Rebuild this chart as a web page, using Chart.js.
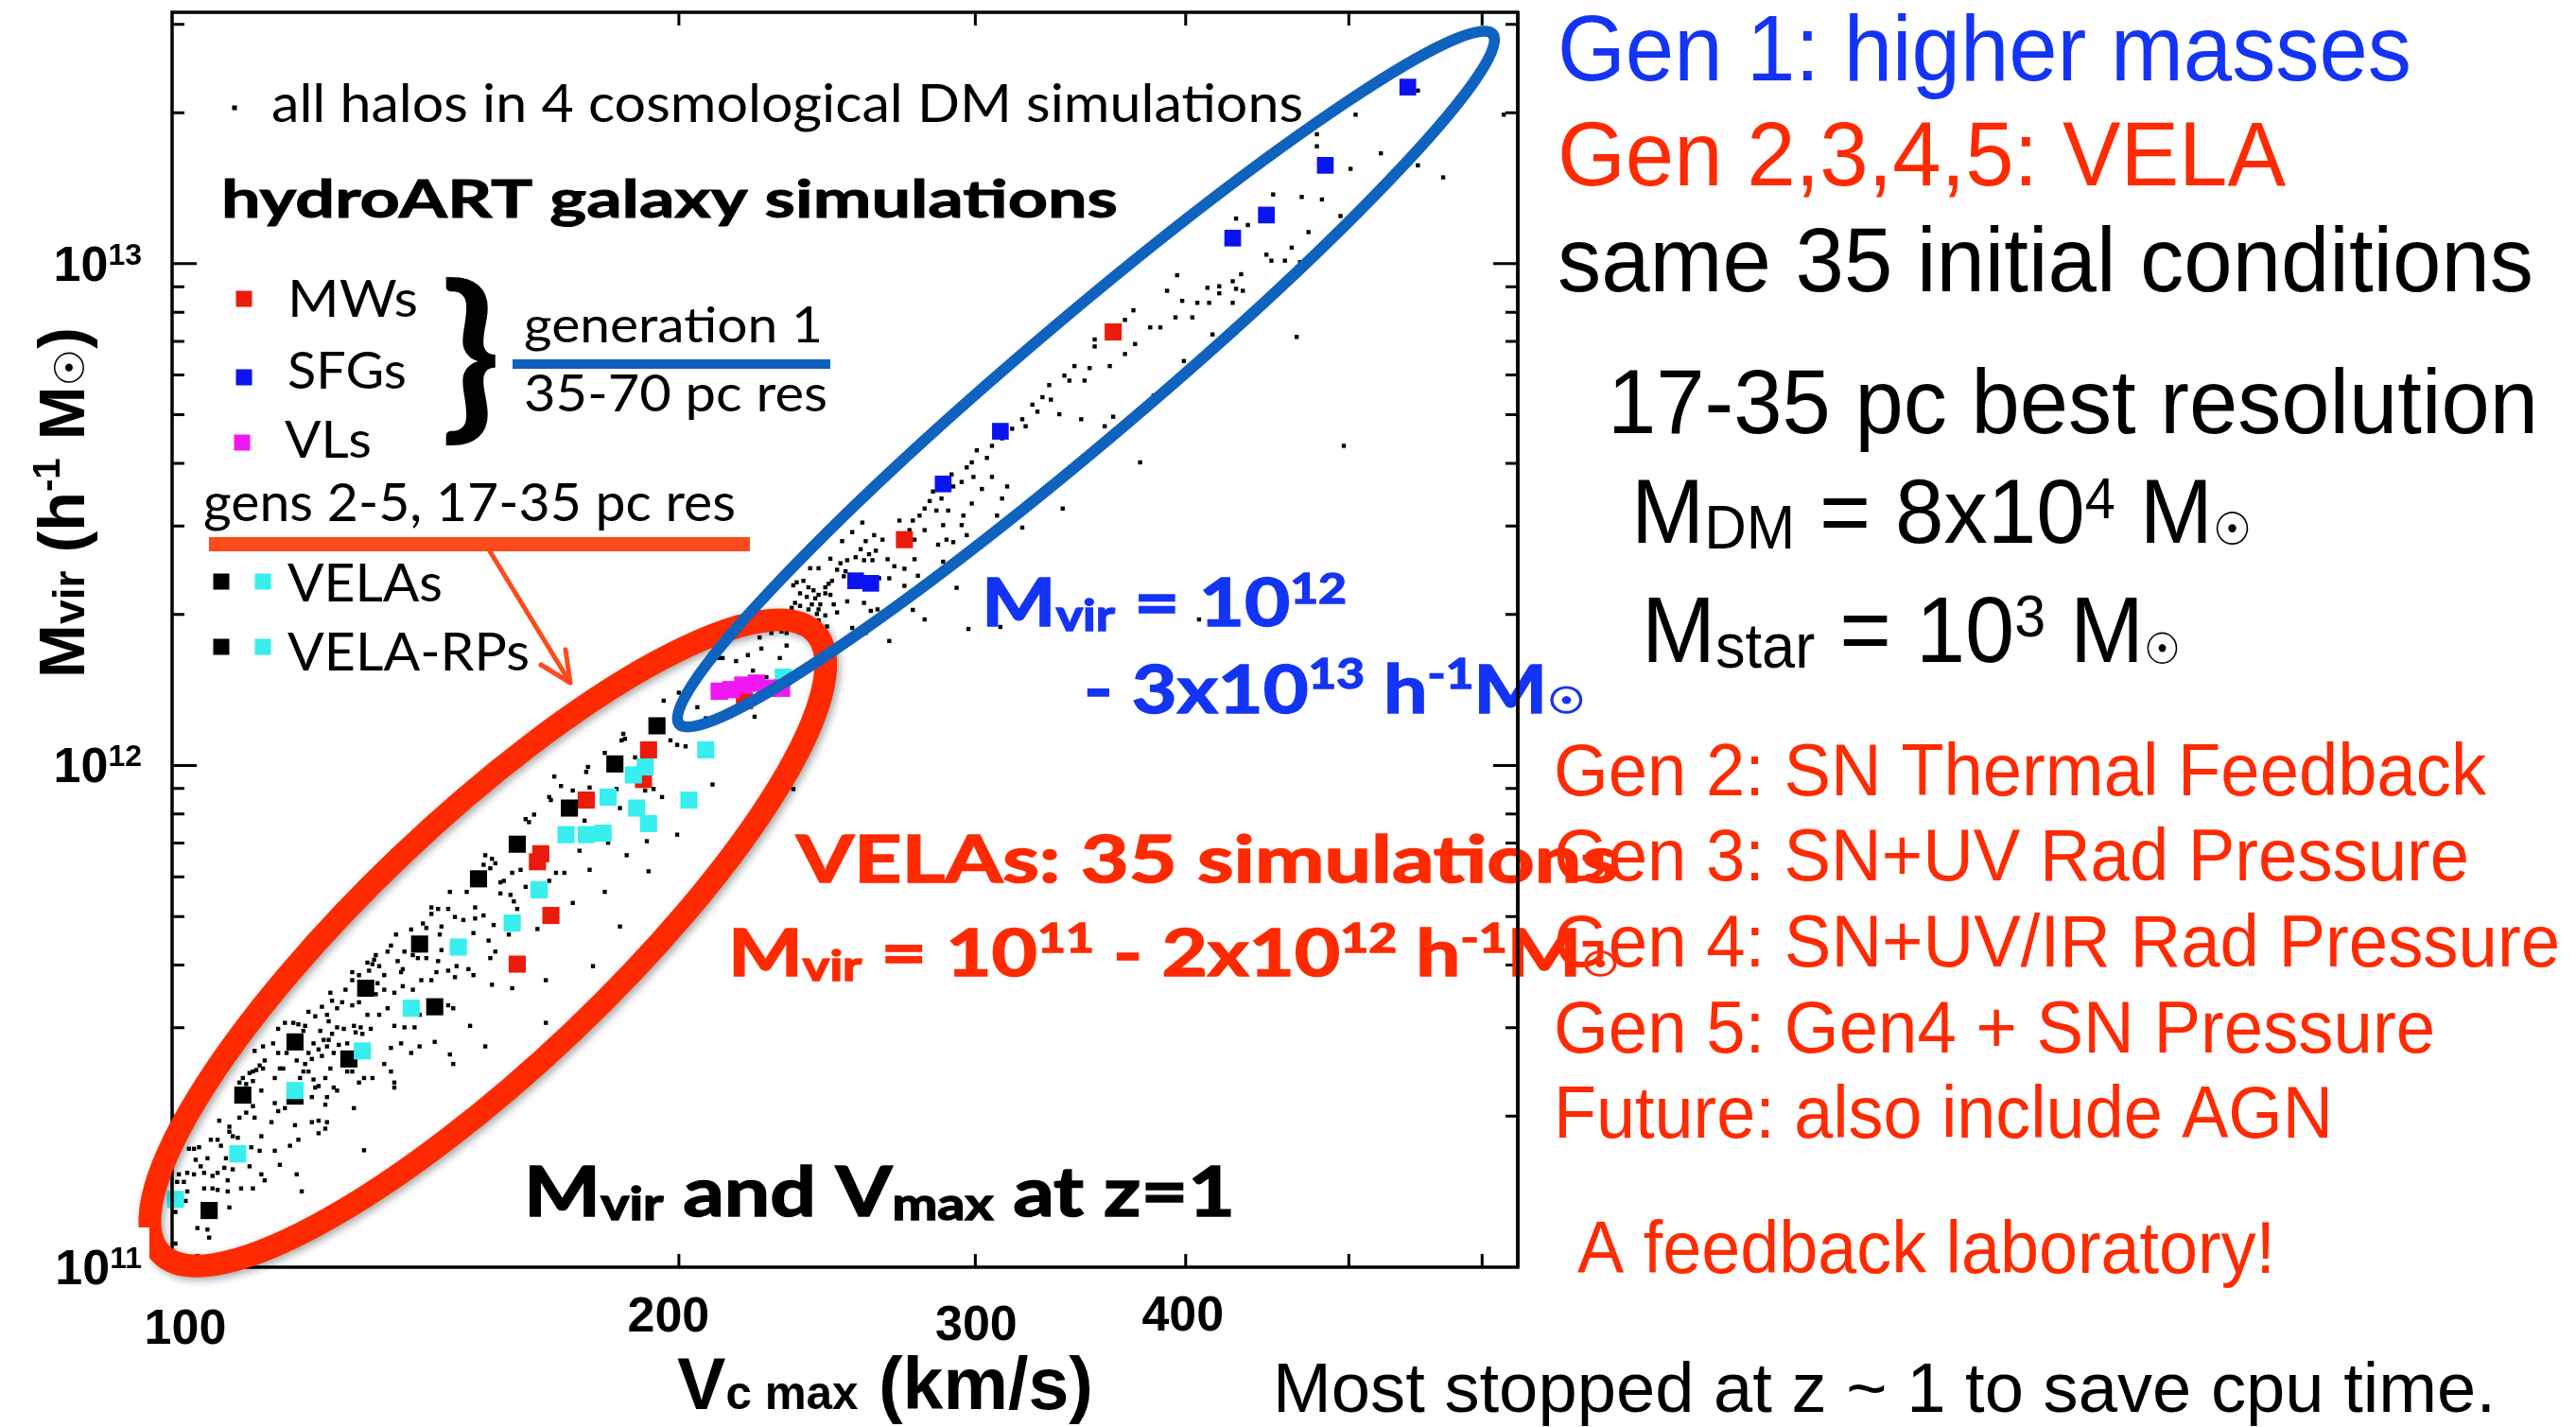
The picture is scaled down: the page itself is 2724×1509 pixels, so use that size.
<!DOCTYPE html>
<html>
<head>
<meta charset="utf-8">
<style>
  html, body { margin: 0; padding: 0; background: #fff; }
  canvas { display: block; }
</style>
<script src="https://cdn.jsdelivr.net/npm/chart.js@4.4.1/dist/chart.umd.min.js"></script>
</head>
<body>
<canvas id="halos" width="2724" height="1509"></canvas>
<script>
// Vmax (km/s) and Mvir (h^-1 Msun), stored as [log10 V, log10 M]

// all halos from the 4 dark-matter runs
const haloPoints = [
  [2.186,11.821],[2.190,11.814],[2.192,11.805],[2.185,11.802],[2.189,11.795],[2.207,11.792],[2.202,11.786],[2.228,11.786],
  [2.233,11.786],[2.248,11.792],[2.197,11.770],[2.195,11.767],[2.224,11.770],[2.210,11.758],[2.165,11.748],[2.175,11.748],
  [2.195,11.745],[2.201,11.742],[2.203,11.729],[2.238,11.726],[2.154,11.717],[2.158,11.714],[2.164,11.714],[2.205,11.714],
  [2.180,11.717],[2.154,11.704],[2.168,11.698],[2.173,11.692],[2.180,11.695],[2.185,11.701],[2.191,11.682],[2.200,11.663],
  [2.217,11.674],[2.149,11.685],[2.151,11.676],[2.160,11.679],[2.142,11.673],[2.133,11.663],[2.159,11.663],[2.179,11.666],
  [2.188,11.651],[2.130,11.641],[2.128,11.629],[2.138,11.629],[2.143,11.622],[2.146,11.616],[2.151,11.616],[2.158,11.610],
  [2.160,11.632],[2.164,11.591],[2.169,11.600],[2.176,11.594],[2.192,11.629],[2.189,11.616],[2.250,11.600],[2.121,11.622],
  [2.120,11.613],[2.119,11.604],[2.116,11.607],[2.134,11.610],[2.137,11.594],[2.136,11.588],[2.123,11.600],[2.126,11.582],
  [2.117,11.591],[2.107,11.588],[2.111,11.582],[2.107,11.572],[2.157,11.588],[2.168,11.578],[2.179,11.582],[2.148,11.572],
  [2.154,11.572],[2.143,11.553],[2.137,11.560],[2.132,11.547],[2.122,11.566],[2.126,11.553],[2.121,11.544],[2.111,11.528],
  [2.107,11.522],[2.103,11.553],[2.094,11.547],[2.095,11.531],[2.101,11.528],[2.098,11.516],[2.089,11.519],[2.092,11.503],
  [2.093,11.490],[2.085,11.500],[2.081,11.509],[2.116,11.503],[2.123,11.503],[2.128,11.516],[2.132,11.481],[2.138,11.478],
  [2.144,11.478],[2.147,11.503],[2.164,11.522],[2.167,11.516],[2.177,11.481],[2.222,11.572],[2.202,11.556],[2.190,11.563],
  [2.222,11.487],[2.108,11.481],[2.112,11.478],[2.118,11.475],[2.113,11.465],[2.109,11.468],[2.102,11.475],[2.098,11.478],
  [2.095,11.465],[2.093,11.453],[2.088,11.471],[2.090,11.453],[2.087,11.434],[2.084,11.446],[2.081,11.427],[2.078,11.471],
  [2.072,11.487],[2.067,11.487],[2.075,11.484],[2.063,11.475],[2.079,11.481],[2.092,11.440],[2.099,11.443],[2.104,11.446],
  [2.096,11.427],[2.094,11.396],[2.089,11.421],[2.083,11.415],[2.079,11.405],[2.081,11.390],[2.078,11.390],[2.074,11.412],
  [2.068,11.427],[2.063,11.427],[2.060,11.446],[2.054,11.440],[2.049,11.431],[2.055,11.412],[2.052,11.402],[2.054,11.396],
  [2.050,11.393],[2.048,11.390],[2.046,11.387],[2.042,11.377],[2.040,11.368],[2.044,11.365],[2.048,11.371],[2.053,11.352],
  [2.061,11.377],[2.064,11.396],[2.066,11.396],[2.076,11.377],[2.076,11.352],[2.084,11.374],[2.087,11.361],[2.091,11.377],
  [2.096,11.358],[2.098,11.352],[2.104,11.390],[2.107,11.390],[2.111,11.368],[2.114,11.377],[2.119,11.377],[2.130,11.390],
  [2.132,11.368],[2.132,11.358],[2.130,11.437],[2.136,11.446],[2.142,11.427],[2.147,11.440],[2.156,11.449],[2.165,11.424],
  [2.167,11.405],[2.186,11.440],[2.126,11.405],[2.108,11.317],[2.061,11.327],[2.063,11.311],[2.067,11.317],[2.049,11.298],
  [2.044,11.308],[2.040,11.298],[2.048,11.321],[2.028,11.292],[2.034,11.280],[2.034,11.270],[2.036,11.261],[2.039,11.258],
  [2.053,11.261],[2.023,11.254],[2.027,11.254],[2.029,11.242],[2.032,11.217],[2.047,11.239],[2.052,11.232],[2.061,11.232],
  [2.070,11.242],[2.075,11.254],[2.083,11.289],[2.087,11.292],[2.091,11.276],[2.092,11.289],[2.087,11.267],[2.059,11.289],
  [2.073,11.283],[2.091,11.324],[2.092,11.339],[2.083,11.339],[2.085,11.358],[2.016,11.239],[2.013,11.236],[2.010,11.236],
  [2.014,11.214],[2.017,11.201],[2.021,11.217],[2.019,11.188],[2.024,11.182],[2.027,11.188],[2.033,11.173],[2.031,11.198],
  [2.036,11.195],[2.046,11.201],[2.053,11.185],[2.055,11.173],[2.064,11.204],[2.074,11.185],[2.077,11.151],[2.009,11.188],
  [2.013,11.185],[2.004,11.185],[2.003,11.170],[2.007,11.170],[2.019,11.157],[2.024,11.157],[2.027,11.154],[2.033,11.151],
  [2.034,11.119],[2.041,11.157],[2.048,11.157],[2.009,11.151],[2.008,11.132],[2.015,11.078],[2.021,11.075],[2.022,11.059],
  [2.015,11.022],[2.002,11.047],[2.002,11.110],[2.003,11.226],[2.114,11.233],[2.188,11.321],
  [2.410,12.484],[2.404,12.465],[2.398,12.447],[2.412,12.447],[2.417,12.459],[2.409,12.431],[2.414,12.421],[2.418,12.428],
  [2.406,12.415],[2.401,12.409],[2.411,12.409],[2.416,12.409],[2.391,12.412],[2.397,12.403],[2.379,12.393],[2.384,12.393],
  [2.395,12.390],[2.400,12.387],[2.399,12.377],[2.392,12.368],[2.390,12.362],[2.388,12.355],[2.369,12.359],[2.371,12.365],
  [2.375,12.368],[2.378,12.355],[2.381,12.349],[2.373,12.343],[2.384,12.340],[2.388,12.343],[2.391,12.340],[2.377,12.336],
  [2.382,12.333],[2.370,12.324],[2.373,12.318],[2.380,12.321],[2.385,12.321],[2.384,12.311],[2.378,12.311],[2.393,12.321],
  [2.401,12.327],[2.411,12.324],[2.415,12.308],[2.419,12.311],[2.395,12.305],[2.388,12.299],[2.383,12.302],[2.384,12.289],
  [2.389,12.277],[2.404,12.274],[2.412,12.264],[2.415,12.283],[2.368,12.314],[2.362,12.305],[2.354,12.277],[2.352,12.270],
  [2.359,12.274],[2.362,12.267],[2.365,12.264],[2.356,12.264],[2.343,12.280],[2.349,12.255],[2.350,12.233],[2.365,12.239],
  [2.342,12.220],[2.335,12.208],[2.325,12.214],[2.327,12.214],[2.361,12.214],[2.345,12.189],[2.353,12.176],[2.312,12.116],
  [2.317,12.094],[2.346,12.097],[2.292,12.129],[2.301,12.145],[2.268,12.063],[2.269,12.053],[2.267,12.050],[2.296,12.050],
  [2.300,12.041],[2.305,12.038],[2.257,12.025],[2.275,12.016],[2.247,11.997],[2.246,11.987],[2.227,11.978],[2.231,11.959],
  [2.238,11.950],[2.248,11.956],[2.264,11.953],[2.281,11.950],[2.286,11.953],[2.291,11.937],[2.321,11.962],[2.369,11.953],
  [2.224,11.937],[2.225,11.931],[2.266,11.915],[2.215,11.902],[2.210,11.893],[2.212,11.887],[2.245,11.890],[2.300,11.862],
  [2.282,11.849],[2.259,11.846],[2.242,11.830],[2.270,11.821],[2.283,11.789],[2.257,11.748],[2.266,11.679],
  [2.703,13.297],[2.740,13.345],[2.791,13.297],[2.680,13.258],[2.680,13.234],[2.718,13.220],[2.700,13.189],[2.740,13.196],
  [2.755,13.172],[2.654,13.138],[2.671,13.133],[2.683,13.128],[2.694,13.095],[2.632,13.090],[2.639,13.077],[2.675,13.063],
  [2.665,13.032],[2.650,13.018],[2.653,13.006],[2.661,13.006],[2.670,13.003],[2.597,12.977],[2.635,12.979],[2.630,12.965],
  [2.622,12.955],[2.615,12.952],[2.622,12.941],[2.632,12.950],[2.636,12.946],[2.591,12.946],[2.600,12.926],[2.609,12.922],
  [2.616,12.922],[2.630,12.922],[2.632,12.864],[2.618,12.859],[2.668,12.854],[2.571,12.907],[2.581,12.873],[2.566,12.888],
  [2.560,12.859],[2.572,12.840],[2.566,12.820],[2.601,12.806],[2.606,12.893],[2.596,12.893],[2.587,12.873],[2.548,12.849],
  [2.548,12.835],[2.557,12.796],[2.545,12.792],[2.536,12.796],[2.530,12.777],[2.542,12.767],[2.533,12.767],[2.521,12.758],
  [2.517,12.734],[2.522,12.729],[2.511,12.719],[2.527,12.700],[2.505,12.690],[2.507,12.676],[2.514,12.705],[2.499,12.671],
  [2.540,12.690],[2.554,12.676],[2.559,12.695],[2.583,12.737],[2.696,12.637],[2.575,12.604],[2.493,12.652],[2.487,12.637],
  [2.478,12.628],[2.484,12.613],[2.475,12.604],[2.472,12.594],[2.487,12.575],[2.476,12.575],[2.469,12.565],[2.463,12.580],
  [2.493,12.532],[2.475,12.522],[2.470,12.498],[2.469,12.479],[2.464,12.556],[2.490,12.498],[2.496,12.556],[2.481,12.551],
  [2.457,12.532],[2.450,12.527],[2.447,12.512],[2.444,12.498],[2.440,12.488],[2.438,12.469],[2.452,12.546],[2.454,12.508],
  [2.461,12.508],[2.458,12.479],[2.447,12.469],[2.460,12.450],[2.472,12.459],[2.505,12.474],[2.529,12.512],[2.432,12.488],
  [2.441,12.450],[2.422,12.450],[2.425,12.411],[2.429,12.397],[2.435,12.392],[2.441,12.411],[2.443,12.378],[2.420,12.373],
  [2.426,12.373],[2.435,12.358],[2.440,12.310],[2.455,12.440],[2.450,12.373],[2.458,12.406],[2.464,12.445],[2.447,12.291],
  [2.426,12.248],[2.473,12.272],[2.492,12.276],[2.466,12.354],[2.610,12.291]
];

// generation 1 hydro runs
const mwPoints = [
  [2.283,12.031],[2.246,11.931],[2.219,11.824],[2.217,11.808],[2.225,11.701],[2.280,11.972],[2.340,12.129],[2.205,11.604],
  [2.559,12.864],[2.435,12.450]
];
const sfgPoints = [
  [2.734,13.352],[2.685,13.196],[2.650,13.097],[2.630,13.051],[2.492,12.666],[2.458,12.561],[2.406,12.368],[2.415,12.363]
];
const vlPoints = [
  [2.325,12.148],[2.332,12.151],[2.339,12.160],[2.347,12.164],[2.354,12.154],[2.362,12.154]
];

// VELA runs (generations 2-5)
const velaBlackPoints = [
  [2.288,12.079],[2.263,12.003],[2.236,11.915],[2.205,11.843],[2.182,11.774],[2.147,11.644],[2.115,11.556],[2.156,11.519],
  [2.073,11.449],[2.105,11.415],[2.042,11.343],[2.073,11.341],[2.022,11.113]
];
const velaCyanPoints = [
  [2.317,12.031],[2.281,11.997],[2.274,11.981],[2.259,11.937],[2.276,11.915],[2.283,11.884],[2.234,11.862],[2.246,11.862],
  [2.256,11.865],[2.307,11.931],[2.218,11.752],[2.202,11.686],[2.363,12.176],[2.170,11.638],[2.142,11.516],[2.113,11.431],
  [2.073,11.352],[2.039,11.226],[2.002,11.135]
];

// axis ranges and ticks
const vRange = [100, 630];
const mRange = [1e11, 3.17e13];
const vTicks = [200, 300, 400, 500, 600];
const vLabels = [100, 200, 300, 400];
const vLabelNudge = [14, -11, 1, -3];
const vLabelBase = [1421, 1408, 1417, 1407];
const mMajor = [1e12, 1e13];
const mMinor = [2e11, 3e11, 4e11, 5e11, 6e11, 7e11, 8e11, 9e11,
                2e12, 3e12, 4e12, 5e12, 6e12, 7e12, 8e12, 9e12, 2e13, 3e13];
const mLabelExp = [11, 12, 13];

// selection loops, centred on (V, M)
const redLoop = { v: 154, m: 4.43e11, a: 477, b: 130, angle: -43.5, width: 24, color: '#ff2a00' };
const blueLoop = { v: 349, m: 5.89e12, a: 564, b: 64, angle: -40.3, width: 12, color: '#0f63bf' };

const toXY = pts => pts.map(p => ({ x: Math.pow(10, p[0]), y: Math.pow(10, p[1]) }));

const GILL = 'Lato';
const HELV = '"Liberation Sans"';
const gs = (s, b) => (b ? 'bold ' : '') + s + 'px ' + GILL;
const hv = (s, b) => (b ? 'bold ' : '') + s + 'px ' + HELV;
const sun = s => s + 'px "DejaVu Sans"';

const RED = '#ff2a00';
const BLUE = '#1434f5';

function drawRuns(ctx, x, y, runs, opt) {
  opt = opt || {};
  ctx.save();
  ctx.fillStyle = opt.color || '#000';
  ctx.strokeStyle = opt.color || '#000';
  ctx.textAlign = 'left';
  ctx.textBaseline = 'alphabetic';
  let total = 0;
  const widths = runs.map(r => {
    ctx.font = r.f;
    const w = ctx.measureText(r.t).width;
    total += w;
    return w;
  });
  const sx = opt.width ? opt.width / total : 1;
  ctx.translate(x, y);
  if (opt.rotate) ctx.rotate(opt.rotate);
  if (opt.align === 'right') ctx.translate(-total * sx, 0);
  if (opt.align === 'center') ctx.translate(-total * sx / 2, 0);
  ctx.scale(sx, opt.sy || 1);
  let cx = 0;
  runs.forEach((r, i) => {
    ctx.font = r.f;
    ctx.fillText(r.t, cx, r.dy || 0);
    if (opt.heavy) {
      ctx.lineWidth = opt.heavy;
      ctx.strokeText(r.t, cx, r.dy || 0);
    }
    cx += widths[i];
  });
  ctx.restore();
}

function glyphInBox(ctx, ch, font, l, t, r, b) {
  ctx.save();
  ctx.font = font;
  const m = ctx.measureText(ch);
  const gw = m.actualBoundingBoxLeft + m.actualBoundingBoxRight;
  const gh = m.actualBoundingBoxAscent + m.actualBoundingBoxDescent;
  ctx.translate(l, t);
  ctx.scale((r - l) / gw, (b - t) / gh);
  ctx.fillStyle = '#000';
  ctx.textBaseline = 'alphabetic';
  ctx.fillText(ch, m.actualBoundingBoxLeft, m.actualBoundingBoxAscent);
  ctx.restore();
}

function square(ctx, cx, cy, s, color) {
  ctx.fillStyle = color;
  ctx.fillRect(cx - s / 2, cy - s / 2, s, s);
}

function strokeLoop(ctx, chart, loop, shadow) {
  const cx = chart.scales.x.getPixelForValue(loop.v);
  const cy = chart.scales.y.getPixelForValue(loop.m);
  ctx.save();
  ctx.translate(cx, cy);
  ctx.rotate(loop.angle * Math.PI / 180);
  ctx.beginPath();
  ctx.ellipse(0, 0, loop.a, loop.b, 0, 0, Math.PI * 2);
  ctx.lineWidth = loop.width;
  ctx.strokeStyle = loop.color;
  if (shadow) {
    ctx.shadowColor = 'rgba(0,0,0,0.35)';
    ctx.shadowBlur = 8;
    ctx.shadowOffsetX = 3;
    ctx.shadowOffsetY = 3;
  }
  ctx.stroke();
  ctx.restore();
}

const slidePlugin = {
  id: 'slide',
  afterDraw(chart) {
    const ctx = chart.ctx;
    const area = chart.chartArea;
    const xs = chart.scales.x, ys = chart.scales.y;

    // frame and inward ticks
    ctx.save();
    ctx.strokeStyle = '#000';
    ctx.lineWidth = 3.5;
    ctx.strokeRect(area.left, area.top, area.right - area.left, area.bottom - area.top);
    ctx.lineWidth = 3;
    ctx.beginPath();
    vTicks.forEach(v => {
      const px = xs.getPixelForValue(v);
      ctx.moveTo(px, area.bottom); ctx.lineTo(px, area.bottom - 14);
      ctx.moveTo(px, area.top); ctx.lineTo(px, area.top + 14);
    });
    mMinor.forEach(m => {
      const py = ys.getPixelForValue(m);
      ctx.moveTo(area.left, py); ctx.lineTo(area.left + 13, py);
      ctx.moveTo(area.right, py); ctx.lineTo(area.right - 13, py);
    });
    mMajor.forEach(m => {
      const py = ys.getPixelForValue(m);
      ctx.moveTo(area.left, py); ctx.lineTo(area.left + 26, py);
      ctx.moveTo(area.right, py); ctx.lineTo(area.right - 26, py);
    });
    ctx.stroke();
    ctx.restore();

    // key inside the panel
    square(ctx, 248, 114, 5, '#000');
    drawRuns(ctx, 287, 129, [{ t: 'all halos in 4 cosmological DM simulations', f: gs(57) }], { width: 1091 });
    drawRuns(ctx, 234, 230, [{ t: 'hydroART galaxy simulations', f: gs(56, true) }], { width: 948, heavy: 1 });

    square(ctx, 258, 316, 17, '#ec1b0c');
    square(ctx, 258, 399, 17, '#0a14f0');
    square(ctx, 256, 468, 17, '#f018f0');
    drawRuns(ctx, 304, 335, [{ t: 'MWs', f: gs(54) }], { width: 138 });
    drawRuns(ctx, 304, 411, [{ t: 'SFGs', f: gs(54) }], { width: 126 });
    drawRuns(ctx, 301, 484, [{ t: 'VLs', f: gs(54) }], { width: 92 });
    glyphInBox(ctx, '}', gs(120, true), 471, 292, 525, 471);
    drawRuns(ctx, 554, 362, [{ t: 'generation 1', f: gs(53) }], { width: 316 });
    drawRuns(ctx, 554, 435, [{ t: '35-70 pc res', f: gs(54) }], { width: 321 });
    ctx.fillStyle = '#1060c0';
    ctx.fillRect(542, 380, 336, 10);

    drawRuns(ctx, 215, 551, [{ t: 'gens 2-5, 17-35 pc res', f: gs(56) }], { width: 563 });
    ctx.fillStyle = '#ff4a1c';
    ctx.fillRect(221, 568, 572, 15);
    ctx.save();
    ctx.strokeStyle = '#ff4a1c';
    ctx.lineWidth = 5;
    ctx.lineCap = 'round';
    ctx.lineJoin = 'round';
    ctx.beginPath();
    ctx.moveTo(518, 583); ctx.lineTo(603, 722);
    ctx.moveTo(572, 703); ctx.lineTo(603, 722); ctx.lineTo(598, 687);
    ctx.stroke();
    ctx.restore();

    square(ctx, 234, 615, 17, '#000');
    square(ctx, 278, 615, 17, '#38eeee');
    square(ctx, 234, 684, 17, '#000');
    square(ctx, 278, 684, 17, '#38eeee');
    drawRuns(ctx, 304, 636, [{ t: 'VELAs', f: gs(57) }], { width: 164 });
    drawRuns(ctx, 304, 709, [{ t: 'VELA-RPs', f: gs(57) }], { width: 256 });

    // selection loops
    strokeLoop(ctx, chart, redLoop, true);
    strokeLoop(ctx, chart, blueLoop, false);

    // mass ranges
    drawRuns(ctx, 1038, 662, [
      { t: 'M', f: gs(71, true) }, { t: 'vir', f: gs(46, true), dy: 5 },
      { t: ' = 10', f: gs(71, true) }, { t: '12', f: gs(44, true), dy: -24 }
    ], { width: 386, color: BLUE, heavy: 1.5 });
    drawRuns(ctx, 1146, 754, [
      { t: '- 3x10', f: gs(71, true) }, { t: '13', f: gs(44, true), dy: -26 },
      { t: ' h', f: gs(71, true) }, { t: '-1', f: gs(44, true), dy: -26 },
      { t: 'M', f: gs(71, true) }, { t: '\u2609', f: sun(38) }
    ], { width: 530, color: BLUE, heavy: 1.5 });

    drawRuns(ctx, 842, 933, [{ t: 'VELAs: 35 simulations', f: gs(68, true) }], { width: 869, color: RED, heavy: 1.5 });
    drawRuns(ctx, 770, 1032, [
      { t: 'M', f: gs(68, true) }, { t: 'vir', f: gs(44, true), dy: 5 },
      { t: ' = 10', f: gs(68, true) }, { t: '11', f: gs(42, true), dy: -25 },
      { t: ' - 2x10', f: gs(68, true) }, { t: '12', f: gs(42, true), dy: -25 },
      { t: ' h', f: gs(68, true) }, { t: '-1', f: gs(42, true), dy: -25 },
      { t: 'M', f: gs(68, true) }, { t: '\u2609', f: sun(36) }
    ], { width: 942, color: RED, heavy: 1.5 });

    drawRuns(ctx, 554, 1286, [
      { t: 'M', f: gs(72, true) }, { t: 'vir', f: gs(48, true), dy: 4 },
      { t: ' and V', f: gs(72, true) }, { t: 'max', f: gs(48, true), dy: 4 },
      { t: ' at z=1', f: gs(72, true) }
    ], { width: 752, heavy: 1.5 });

    // tick labels
    ctx.fillStyle = '#fff';
    ctx.fillRect(30, 1298, 128, 66);
    mLabelExp.forEach(e => {
      const py = ys.getPixelForValue(Math.pow(10, e));
      drawRuns(ctx, area.left - 32, py + 18, [
        { t: '10', f: hv(52, true) }, { t: String(e), f: hv(32, true), dy: -17 }
      ], { align: 'right' });
    });
    vLabels.forEach((v, i) => {
      const px = xs.getPixelForValue(v) + vLabelNudge[i];
      drawRuns(ctx, px, vLabelBase[i], [{ t: String(v), f: hv(52, true) }], { align: 'center' });
    });

    // axis titles
    drawRuns(ctx, 716, 1490, [
      { t: 'V', f: hv(78, true) }, { t: 'c max', f: hv(50, true) }, { t: ' (km/s)', f: hv(78, true) }
    ], { width: 440 });
    drawRuns(ctx, 89, 717, [
      { t: 'M', f: hv(68, true) }, { t: 'vir', f: hv(46, true) },
      { t: ' (h', f: hv(68, true) }, { t: '-1', f: hv(40, true), dy: -26 },
      { t: ' M', f: hv(68, true) }, { t: '\u2609', f: 'bold ' + sun(44) }, { t: ')', f: hv(68, true) }
    ], { width: 371, rotate: -Math.PI / 2 });

    // notes to the right of the panel (narrow, tall lettering)
    drawRuns(ctx, 1647, 85, [{ t: 'Gen 1: higher masses', f: hv(94) }], { width: 903, color: BLUE, sy: 1.04 });
    drawRuns(ctx, 1647, 196, [{ t: 'Gen 2,3,4,5: VELA', f: hv(93) }], { width: 770, color: RED, sy: 1.04 });
    drawRuns(ctx, 1647, 308, [{ t: 'same 35 initial conditions', f: hv(93) }], { width: 1032, sy: 1.04 });
    drawRuns(ctx, 1700, 458, [{ t: '17-35 pc best resolution', f: hv(93) }], { width: 984, sy: 1.04 });
    drawRuns(ctx, 1725, 574, [
      { t: 'M', f: hv(93) }, { t: 'DM', f: hv(62), dy: 6 }, { t: ' = 8x10', f: hv(93) },
      { t: '4', f: hv(58), dy: -25 }, { t: ' M', f: hv(93) }, { t: '\u2609', f: sun(46), dy: 2 }
    ], { width: 656, sy: 1.04 });
    drawRuns(ctx, 1736, 700, [
      { t: 'M', f: hv(95) }, { t: 'star', f: hv(64), dy: 6 }, { t: ' = 10', f: hv(95) },
      { t: '3', f: hv(60), dy: -26 }, { t: ' M', f: hv(95) }, { t: '\u2609', f: sun(44), dy: 2 }
    ], { width: 570, sy: 1.04 });

    drawRuns(ctx, 1643, 841, [{ t: 'Gen 2: SN Thermal Feedback', f: hv(74) }], { width: 986, color: RED, sy: 1.04 });
    drawRuns(ctx, 1643, 931, [{ t: 'Gen 3: SN+UV Rad Pressure', f: hv(74) }], { width: 968, color: RED, sy: 1.04 });
    drawRuns(ctx, 1643, 1022, [{ t: 'Gen 4: SN+UV/IR Rad Pressure', f: hv(74) }], { width: 1064, color: RED, sy: 1.04 });
    drawRuns(ctx, 1643, 1113, [{ t: 'Gen 5: Gen4 + SN Pressure', f: hv(74) }], { width: 932, color: RED, sy: 1.04 });
    drawRuns(ctx, 1643, 1203, [{ t: 'Future: also include AGN', f: hv(74) }], { width: 824, color: RED, sy: 1.04 });
    drawRuns(ctx, 1668, 1346, [{ t: 'A feedback laboratory!', f: hv(74) }], { width: 738, color: RED, sy: 1.04 });
    drawRuns(ctx, 1346, 1493, [{ t: 'Most stopped at z ~ 1 to save cpu time.', f: hv(72) }], { width: 1293, sy: 1.04 });

    // right edge of the frame sits over the text
    ctx.save();
    ctx.strokeStyle = '#000';
    ctx.lineWidth = 3.5;
    ctx.beginPath();
    ctx.moveTo(area.right, area.top);
    ctx.lineTo(area.right, area.bottom);
    ctx.stroke();
    ctx.restore();
  }
};

const pointSet = (label, pts, color, radius, order) => ({
  label,
  data: toXY(pts),
  pointStyle: 'rect',
  pointRadius: radius,
  pointBackgroundColor: color,
  pointBorderWidth: 0,
  borderWidth: 0,
  clip: false,
  order
});

new Chart(document.getElementById('halos'), {
  type: 'scatter',
  data: {
    datasets: [
      pointSet('SFGs', sfgPoints, '#0a14f0', 12.5, 1),
      pointSet('VLs', vlPoints, '#f018f0', 13, 2),
      pointSet('VELAs (cyan)', velaCyanPoints, '#38eeee', 12.8, 3),
      pointSet('VELAs (black)', velaBlackPoints, '#000000', 12.8, 4),
      pointSet('MWs', mwPoints, '#ec1b0c', 12.8, 5),
      pointSet('DM halos', haloPoints, '#000000', 3.1, 6)
    ]
  },
  options: {
    responsive: false,
    animation: false,
    devicePixelRatio: 1,
    events: [],
    layout: { padding: { left: 182, top: 13, right: 1119, bottom: 169 } },
    scales: {
      x: { type: 'logarithmic', min: vRange[0], max: vRange[1], display: false },
      y: { type: 'logarithmic', min: mRange[0], max: mRange[1], display: false }
    },
    plugins: { legend: { display: false }, tooltip: { enabled: false } }
  },
  plugins: [slidePlugin]
});
</script>
</body>
</html>
